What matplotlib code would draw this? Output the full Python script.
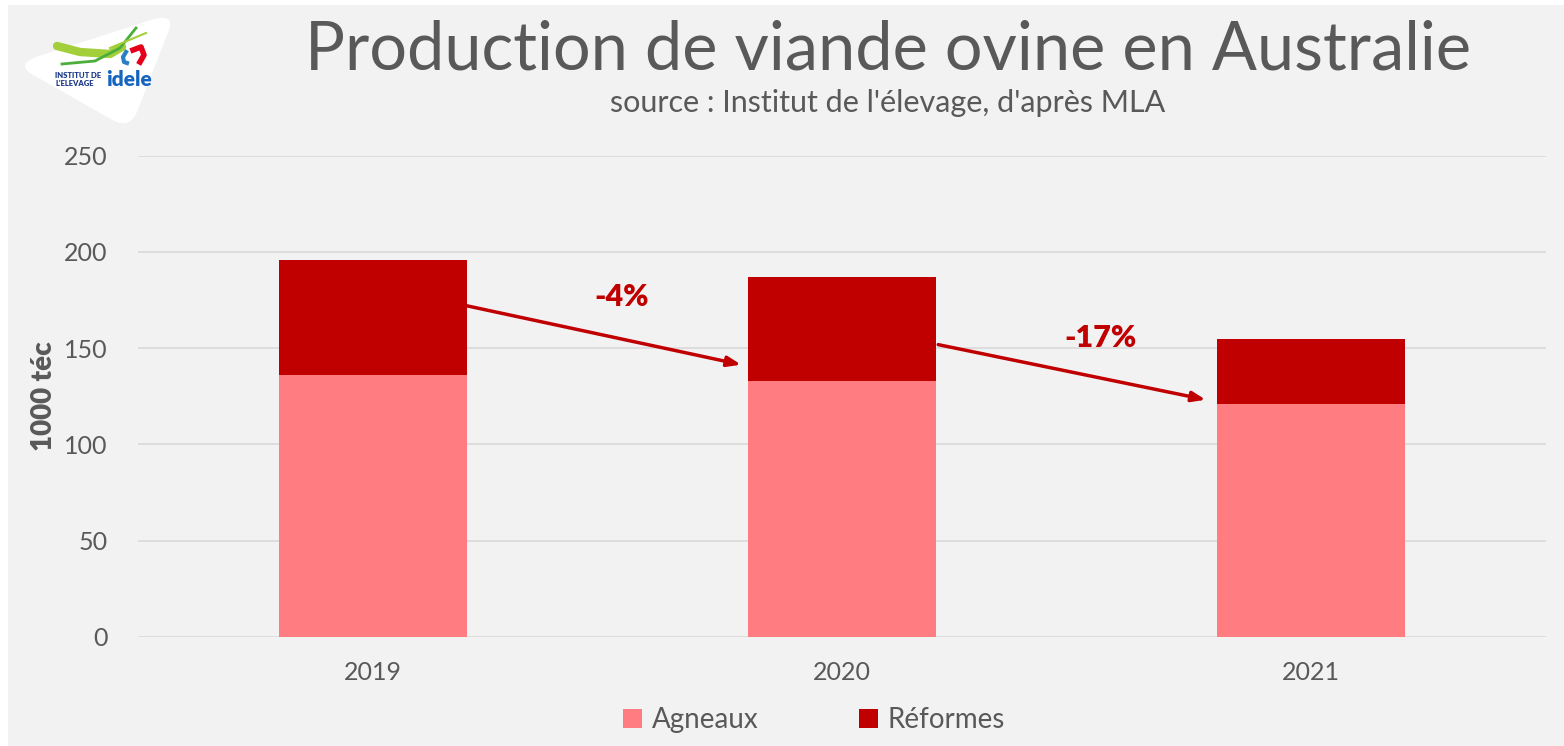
import matplotlib
matplotlib.use("Agg")
import matplotlib.pyplot as plt
import numpy as np
from matplotlib.patches import Rectangle, PathPatch, Patch
from matplotlib.path import Path

plt.rcParams['font.family'] = ['Lato', 'DejaVu Sans']

years = ["2019", "2020", "2021"]
agneaux = [136, 133, 121]
reformes = [60, 54, 33.5]
variations = ["-4%", "-17%"]
yticks = [0, 50, 100, 150, 200, 250]

C_AGN = "#ff7c80"
C_REF = "#c00000"
BG = "#f2f2f2"
TXT = "#595959"

W, H = 1564, 746
fig = plt.figure(figsize=(W / 100, H / 100), dpi=100, facecolor="white")

# gray panel (behind everything)
bg_ax = fig.add_axes([0, 0, 1, 1], zorder=-10)
bg_ax.axis("off")
bg_ax.add_patch(Rectangle((8 / W, 0), 1, 1 - 5 / H, transform=fig.transFigure,
                          facecolor=BG, edgecolor="none"))

ax = fig.add_axes([138 / W, 1 - 637 / H, 1408 / W, (637 - 155.5) / H], zorder=1)
ax.set_facecolor("none")
x = np.arange(len(years))
bw = 0.4
ax.bar(x, agneaux, bw, color=C_AGN, label="Agneaux", zorder=3)
ax.bar(x, reformes, bw, bottom=agneaux, color=C_REF, label="Réformes", zorder=3)

ax.set_xlim(-0.5, 2.5)
ax.set_ylim(0, 250)
ax.set_yticks(yticks)
ax.set_xticks(x)
ax.set_xticklabels(years)
ax.grid(axis="y", color="#d9d9d9", linewidth=1.2, zorder=0)
for s in ax.spines.values():
    s.set_visible(False)
ax.tick_params(axis="both", length=0, labelsize=18, labelcolor=TXT)
ax.tick_params(axis="x", pad=17)
ax.tick_params(axis="y", pad=22)
ax.set_ylabel("1000 téc", fontsize=20, fontweight="heavy", color=TXT, labelpad=5)

# arrows and variation labels
arrow_specs = [((0 + bw / 2, 172), (0.785, 141.4), (0.53, 176.5)),
               ((1 + bw / 2 + 0.005, 151.8), (1.775, 123.2), (1.55, 155.5))]
for (start, end, lab), txt in zip(arrow_specs, variations):
    ax.annotate("", xy=end, xytext=start,
                arrowprops=dict(arrowstyle="-|>,head_length=0.8,head_width=0.3",
                                color=C_REF, lw=2.5, shrinkA=0, shrinkB=0), zorder=4)
    ax.text(lab[0], lab[1], txt, color=C_REF, fontsize=22, fontweight="heavy",
            ha="center", va="center", zorder=4)

# legend
handles = [Patch(facecolor=C_AGN, label="Agneaux"), Patch(facecolor=C_REF, label="Réformes")]
leg = fig.legend(handles=handles, loc="center", bbox_to_anchor=(814 / W, 1 - 720 / H),
                 ncol=2, frameon=False, fontsize=20, handlelength=0.7, handleheight=0.7,
                 handletextpad=0.35, columnspacing=3.6, labelcolor=TXT)

# titles
fig.text(888 / W, 1 - 50 / H, "Production de viande ovine en Australie", ha="center",
         va="center", fontsize=48, color=TXT)
fig.text(888 / W, 1 - 103 / H, "source : Institut de l'élevage, d'après MLA", ha="center",
         va="center", fontsize=22, color=TXT)

# logo (rounded triangle badge)
lax = fig.add_axes([0, 1 - 135 / H, 200 / W, 135 / H], zorder=2)
lax.set_xlim(0, 200)
lax.set_ylim(135, 0)
lax.axis("off")
corners = np.array([(14, 64), (176, 12), (130, 130)], float)
r = 0.16
verts, codes = [], []
n = len(corners)
for i in range(n):
    p_prev, p, p_next = corners[i - 1], corners[i], corners[(i + 1) % n]
    a = p + (p_prev - p) * r
    b = p + (p_next - p) * r
    if i == 0:
        verts.append(tuple(a)); codes.append(Path.MOVETO)
    else:
        verts.append(tuple(a)); codes.append(Path.LINETO)
    verts += [tuple(p), tuple(b)]; codes += [Path.CURVE3, Path.CURVE3]
verts.append(verts[0]); codes.append(Path.CLOSEPOLY)
lax.add_patch(PathPatch(Path(verts, codes), facecolor="white", edgecolor="none"))
lax.plot([57, 80, 110, 122], [46, 52, 54, 47], color="#a3cf3a", lw=6, solid_capstyle="round")
lax.plot([62, 95, 120, 136], [64, 61, 48, 28], color="#4cae3a", lw=2)
lax.plot([110, 146], [48, 33], color="#a3cf3a", lw=1.5)
lax.plot([133, 141, 144, 140], [50, 47, 55, 62], color="#e2001a", lw=4)
lax.plot([126, 123, 124, 127], [52, 57, 62, 63], color="#2a7fc1", lw=3)
lax.text(55, 75, "INSTITUT DE", fontsize=5.5, fontweight="heavy", color="#1d3a8a", va="center")
lax.text(55, 83, "L'ELEVAGE", fontsize=5.5, fontweight="heavy", color="#1d3a8a", va="center")
lax.text(106, 80, "idele", fontsize=15, fontweight="heavy", color="#1565c0", va="center")

fig.savefig("out.png", dpi=100, facecolor=fig.get_facecolor())
